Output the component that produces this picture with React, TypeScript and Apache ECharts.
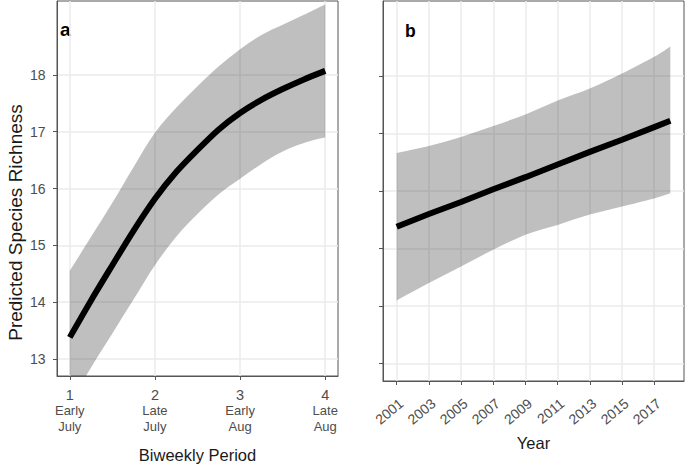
import React, { useEffect, useRef } from "react";
import * as echarts from "echarts";

// Panel a: biweekly period
const periods = [1, 1.25, 1.5, 1.75, 2, 2.25, 2.5, 2.75, 3, 3.25, 3.5, 3.75, 4];
const periodFit = [13.38, 14.03, 14.65, 15.26, 15.82, 16.29, 16.68, 17.04, 17.33, 17.56, 17.75, 17.92, 18.07];
const periodUpper = [14.55, 15.15, 15.75, 16.38, 16.98, 17.42, 17.8, 18.15, 18.45, 18.7, 18.88, 19.06, 19.24];
const periodLower = [12.2, 12.85, 13.45, 14.05, 14.65, 15.15, 15.55, 15.9, 16.17, 16.43, 16.65, 16.8, 16.9];
const periodTicks = [1, 2, 3, 4];
const periodNames = [["Early", "July"], ["Late", "July"], ["Early", "Aug"], ["Late", "Aug"]];

// Panel b: year
const years = [2001, 2003, 2005, 2007, 2009, 2011, 2013, 2015, 2017, 2018];
const yearFit = [15.38, 15.6, 15.81, 16.03, 16.24, 16.46, 16.68, 16.89, 17.11, 17.22];
const yearUpper = [16.66, 16.78, 16.94, 17.13, 17.33, 17.57, 17.78, 18.04, 18.33, 18.51];
const yearLower = [14.1, 14.4, 14.69, 14.98, 15.24, 15.41, 15.59, 15.73, 15.87, 15.96];
const yearTicks = [2001, 2003, 2005, 2007, 2009, 2011, 2013, 2015, 2017];

const richnessTicks = [13, 14, 15, 16, 17, 18];

const FONT = "'Liberation Sans', Arial, sans-serif";
const BORDER = "#555555";
const GRIDLINE = "#ebebeb";
const TICKTEXT = "#4d4d4d";
const BAND = "rgba(0,0,0,0.25)";

// Smooth (Catmull-Rom) path through pixel points
function smoothSegment(pts: number[][], start: "M" | "L"): string {
  const n = pts.length;
  let d = `${start}${pts[0][0]},${pts[0][1]}`;
  for (let i = 0; i < n - 1; i++) {
    const p0 = pts[Math.max(i - 1, 0)];
    const p1 = pts[i];
    const p2 = pts[i + 1];
    const p3 = pts[Math.min(i + 2, n - 1)];
    const c1x = p1[0] + (p2[0] - p0[0]) / 6;
    const c1y = p1[1] + (p2[1] - p0[1]) / 6;
    const c2x = p2[0] - (p3[0] - p1[0]) / 6;
    const c2y = p2[1] - (p3[1] - p1[1]) / 6;
    d += ` C${c1x},${c1y} ${c2x},${c2y} ${p2[0]},${p2[1]}`;
  }
  return d;
}

export default function App() {
  const ref = useRef<HTMLDivElement>(null);

  useEffect(() => {
    if (!ref.current) return;
    const chart = echarts.init(ref.current, null, { renderer: "svg" });

    const baseX = (gridIndex: number, min: number, max: number, ticks: number[]) => ({
      type: "value",
      gridIndex,
      min,
      max,
      axisLine: { show: true, onZero: false, lineStyle: { color: BORDER, width: 1 } },
      axisTick: { show: true, length: 4, customValues: ticks, lineStyle: { color: BORDER, width: 1 } },
      splitLine: { show: true, lineStyle: { color: GRIDLINE, width: 1.5 } },
      nameLocation: "middle",
      nameTextStyle: { fontFamily: FONT, fontSize: 16.5, color: "#1a1a1a" },
    });

    const baseY = (gridIndex: number, showLabels: boolean) => ({
      type: "value",
      gridIndex,
      min: 12.7,
      max: 19.3,
      axisLine: { show: true, lineStyle: { color: BORDER, width: 1 } },
      axisTick: { show: true, length: 4, customValues: richnessTicks, lineStyle: { color: BORDER, width: 1 } },
      axisLabel: {
        show: showLabels,
        customValues: richnessTicks,
        margin: 11.5,
        fontFamily: FONT,
        fontSize: 14,
        color: TICKTEXT,
      },
      splitLine: { show: true, lineStyle: { color: GRIDLINE, width: 1.5 } },
    });

    const bandSeries = (idx: number, xs: number[], lower: number[], upper: number[]) => ({
      type: "custom",
      xAxisIndex: idx,
      yAxisIndex: idx,
      clip: true,
      silent: true,
      data: xs.map((x, i) => [x, lower[i], upper[i]]),
      encode: { x: 0, y: [1, 2] },
      renderItem: (params: any, api: any) => {
        if (params.dataIndex !== 0) return null;
        const top = xs.map((x, i) => api.coord([x, upper[i]]));
        const bottom = xs.map((x, i) => api.coord([x, lower[i]])).reverse();
        const d = smoothSegment(top, "M") + " " + smoothSegment(bottom, "L") + " Z";
        return {
          type: "path",
          shape: { pathData: d },
          style: { fill: BAND },
          silent: true,
        };
      },
    });

    const option = {
      animation: false,
      textStyle: { fontFamily: FONT },
      grid: [
        { left: 57, top: 1, width: 281, height: 380, show: true, borderColor: BORDER, borderWidth: 1, backgroundColor: "#fff" },
        { left: 383, top: 1, width: 301, height: 380, show: true, borderColor: BORDER, borderWidth: 1, backgroundColor: "#fff" },
      ],
      xAxis: [
        {
          ...baseX(0, 0.85, 4.15, periodTicks),
          name: "Biweekly Period",
          nameGap: 70,
          axisLabel: {
            customValues: periodTicks,
            margin: 11,
            formatter: (v: number) => {
              const i = periodTicks.indexOf(v);
              const parts = i >= 0 ? periodNames[i] : ["", ""];
              return `{n|${v}}\n{s|${parts[0]}}\n{s|${parts[1]}}`;
            },
            rich: {
              n: { fontFamily: FONT, fontSize: 14.5, lineHeight: 15, color: TICKTEXT, align: "center" },
              s: { fontFamily: FONT, fontSize: 13, lineHeight: 16, color: TICKTEXT, align: "center" },
            },
          },
        },
        {
          ...baseX(1, 2000.15, 2018.85, yearTicks),
          name: "Year",
          nameGap: 53,
          axisLabel: {
            customValues: yearTicks,
            rotate: 40,
            margin: 15,
            verticalAlign: "top",
            fontFamily: FONT,
            fontSize: 14,
            color: TICKTEXT,
            formatter: (v: number) => String(v),
          },
        },
      ],
      yAxis: [baseY(0, true), baseY(1, false)],
      series: [
        bandSeries(0, periods, periodLower, periodUpper),
        {
          type: "line",
          name: "period-fit",
          xAxisIndex: 0,
          yAxisIndex: 0,
          data: periods.map((x, i) => [x, periodFit[i]]),
          symbol: "none",
          smooth: 0.3,
          lineStyle: { color: "#000", width: 6, cap: "butt" },
        },
        bandSeries(1, years, yearLower, yearUpper),
        {
          type: "line",
          name: "year-fit",
          xAxisIndex: 1,
          yAxisIndex: 1,
          data: years.map((x, i) => [x, yearFit[i]]),
          symbol: "none",
          lineStyle: { color: "#000", width: 6, cap: "butt" },
        },
      ],
      graphic: [
        {
          type: "text",
          x: 15.5,
          y: 222.5,
          rotation: Math.PI / 2,
          style: {
            text: "Predicted Species Richness",
            font: `19px ${FONT}`,
            fill: "#1a1a1a",
            align: "center",
            verticalAlign: "middle",
          },
        },
        {
          type: "text",
          left: 60,
          top: 20,
          style: { text: "a", font: `bold 19px ${FONT}`, fill: "#000" },
        },
        {
          type: "text",
          left: 405,
          top: 22,
          style: { text: "b", font: `bold 17.5px ${FONT}`, fill: "#000" },
        },
      ],
    };

    chart.setOption(option as any);
    return () => chart.dispose();
  }, []);

  return (
    <div
      ref={ref}
      style={{ position: "absolute", left: 0, top: 0, width: 685, height: 468, background: "#fff" }}
    />
  );
}
